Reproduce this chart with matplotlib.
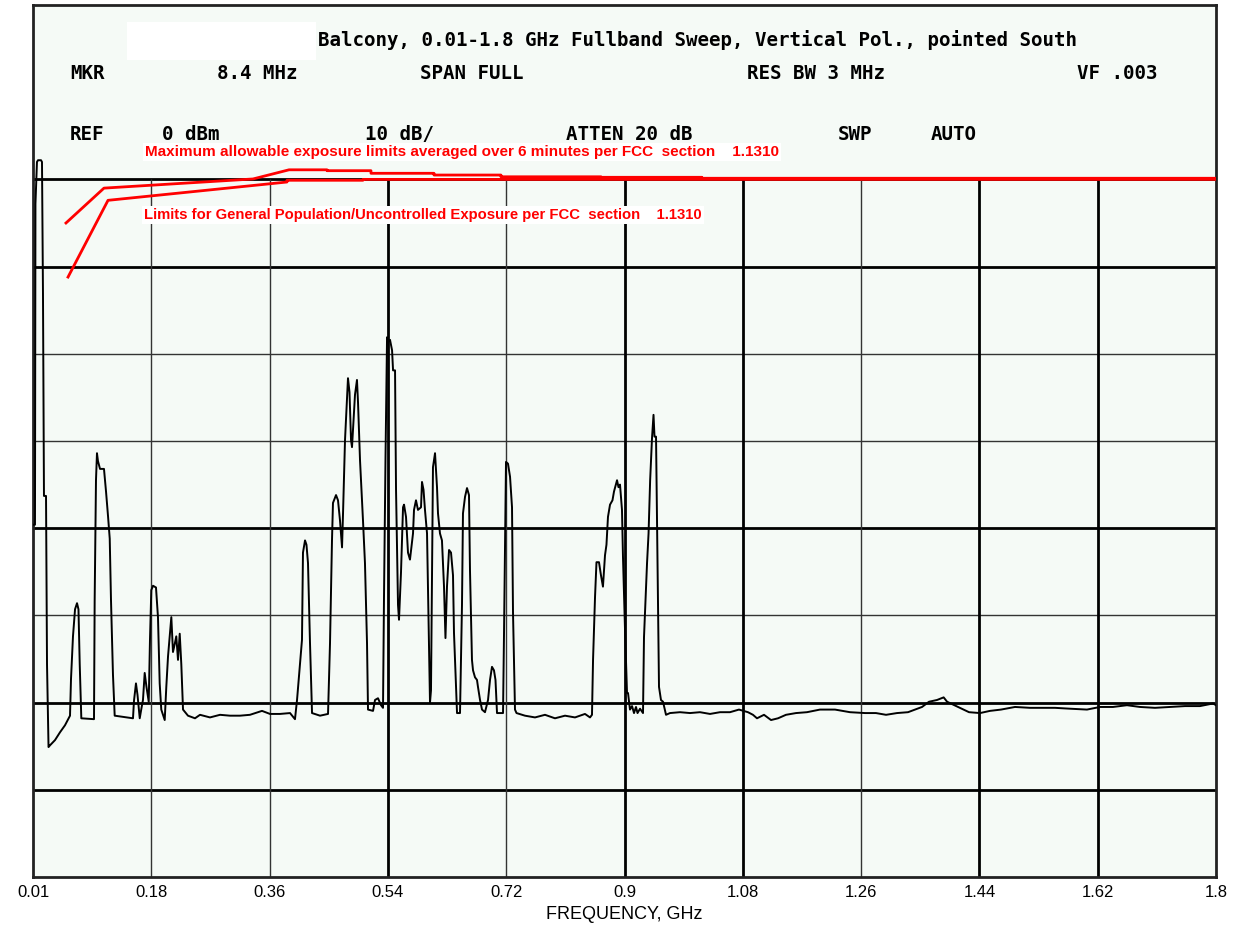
import matplotlib
matplotlib.use('Agg')
import matplotlib.pyplot as plt
from matplotlib.patches import Rectangle

# sweep data, frequency in MHz, level in dBm
freq_mhz = [10, 13, 13.7, 16.0, 17.6, 22.1, 23.6, 25.1, 26.6, 29.7, 31.2, 33.5, 35.7, 43.3, 50.9,
            58.4, 66.0, 67.5, 70.5, 73.6, 76.6, 78.8, 80.7, 83.1, 102.3, 103.3, 105.3, 106.8,
            108.3, 111.4, 117.4, 120.5, 123.5, 126.1, 128.0, 131.0, 133.6, 161.3, 162.8, 165.8,
            168.1, 171.5, 174.2, 176.4, 179.0, 181.7, 185.1, 187.0, 189.0, 191.6, 196.1, 199.1,
            201.7, 204.1, 209.3, 211.7, 214.3, 216.8, 219.3, 221.8, 224.4, 226.8, 229.4, 232.0,
            234.4, 237.0, 244.5, 255.1, 262.7, 277.8, 293.0, 308.1, 323.2, 338.3, 356.5, 368.6,
            383.7, 398.9, 406.4, 409.5, 417.0, 418.5, 421.6, 423.8, 426.1, 429.1, 432.2, 444.3,
            456.4, 459.4, 462.4, 463.9, 468.5, 471.5, 474.5, 477.6, 479.1, 482.1, 485.1, 486.6,
            488.9, 491.2, 492.7, 494.2, 497.2, 500.2, 501.8, 504.8, 509.3, 512.3, 515.4, 516.9,
            524.5, 527.5, 532.0, 536.6, 539.6, 541.1, 543.4, 545.7, 548.0, 550.2, 553.3, 554.8,
            557.8, 559.3, 562.3, 563.8, 566.8, 569.9, 571.4, 574.4, 577.4, 580.4, 585.0, 586.5,
            589.5, 592.5, 597.1, 598.6, 600.9, 603.1, 606.2, 607.7, 610.7, 612.2, 615.2, 618.3,
            621.3, 622.8, 625.8, 628.8, 631.9, 634.1, 636.4, 639.5, 642.5, 645.5, 647.0, 650.1,
            651.6, 656.1, 659.1, 660.6, 663.7, 666.7, 669.7, 671.2, 674.2, 675.8, 678.8, 681.8,
            683.3, 686.4, 689.4, 693.9, 698.5, 701.5, 704.5, 707.5, 709.8, 712.1, 721.2, 722.7,
            725.7, 728.7, 731.8, 734.8, 736.3, 739.3, 741.6, 754.4, 769.6, 784.7, 799.8, 815.0,
            830.1, 845.2, 852.8, 855.8, 857.4, 860.4, 862.6, 866.4, 869.4, 872.4, 875.5, 877.7,
            880.0, 883.1, 886.8, 889.1, 893.7, 895.9, 898.2, 901.2, 902.7, 905.8, 908.8, 910.3,
            913.3, 916.4, 919.4, 922.4, 924.7, 928.5, 933.0, 934.5, 939.1, 941.4, 943.8, 946.6,
            948.9, 950.4, 952.7, 954.9, 957.2, 960.2, 963.3, 967.8, 973.8, 989.0, 1004.1, 1019.2,
            1034.4, 1049.5, 1064.6, 1078.2, 1091.8, 1099.4, 1105.5, 1116.1, 1126.7, 1137.3,
            1149.3, 1164.5, 1181.1, 1200.8, 1223.5, 1246.2, 1268.9, 1285.5, 1300.7, 1317.3,
            1334.0, 1344.6, 1355.2, 1365.8, 1377.9, 1387.9, 1393.1, 1409.7, 1426.3, 1443.0,
            1458.0, 1474.7, 1495.9, 1518.6, 1541.3, 1556.4, 1579.1, 1604.8, 1624.5, 1644.1,
            1665.3, 1685.0, 1707.7, 1730.4, 1753.1, 1775.8, 1795.5, 1800]
level_dbm = [-59.6, -59.6, -22.8, -18.0, -17.8, -17.8, -18.0, -33.1, -56.3, -56.3, -75.6, -85.1,
             -84.9, -84.3, -83.4, -82.6, -81.5, -77.3, -72.4, -69.3, -68.6, -69.3, -75.6, -81.8,
             -81.9, -68.3, -54.5, -51.4, -52.3, -53.2, -53.2, -55.8, -58.6, -61.2, -68.2, -76.8,
             -81.5, -81.8, -79.8, -77.8, -79.1, -81.8, -80.6, -79.7, -76.6, -78.2, -79.9, -72.8,
             -67.1, -66.6, -66.8, -70.2, -77.8, -80.8, -82.0, -78.2, -74.7, -72.4, -70.2, -74.2,
             -73.3, -72.4, -75.1, -72.1, -75.6, -80.8, -81.5, -81.8, -81.4, -81.7, -81.4, -81.5,
             -81.5, -81.4, -80.95, -81.3, -81.3, -81.2, -81.9, -79.7, -72.8, -62.8, -61.4, -61.9,
             -64.0, -73.1, -81.2, -81.5, -81.3, -73.2, -61.4, -57.1, -56.2, -56.8, -59.1, -62.2,
             -58.3, -49.9, -45.0, -42.8, -44.4, -49.9, -50.7, -48.7, -44.7, -43.0, -45.6, -52.2,
             -59.1, -64.0, -73.2, -80.8, -80.95, -79.7, -79.5, -80.3, -80.6, -67.9, -51.8, -38.1,
             -38.6, -38.4, -39.6, -41.9, -41.9, -55.6, -68.8, -70.5, -65.1, -57.6, -57.3, -58.7,
             -62.8, -63.6, -60.6, -57.9, -56.8, -57.9, -57.6, -54.7, -55.6, -57.9, -60.6, -67.1,
             -80.0, -78.6, -53.0, -51.4, -55.3, -58.3, -60.6, -61.4, -66.7, -72.6, -66.7, -62.5,
             -62.8, -65.4, -72.0, -78.2, -81.2, -81.2, -68.8, -58.3, -56.4, -55.4, -56.2, -64.8,
             -75.1, -76.3, -77.1, -77.4, -78.2, -79.7, -80.8, -81.1, -79.7, -77.4, -75.9, -76.3,
             -77.4, -81.2, -81.2, -72.0, -52.4, -52.6, -54.1, -57.6, -69.7, -80.8, -81.2, -81.5,
             -81.7, -81.4, -81.8, -81.5, -81.7, -81.3, -81.7, -81.4, -75.1, -67.9, -63.9, -63.9,
             -65.4, -66.7, -63.1, -61.9, -58.7, -57.3, -56.8, -55.8, -54.5, -55.3, -55.0, -57.9,
             -63.3, -71.7, -78.9, -78.9, -80.8, -80.4, -81.2, -80.5, -81.2, -80.7, -81.2, -72.5,
             -64.0, -60.6, -54.5, -49.7, -47.0, -49.5, -49.5, -64.0, -78.2, -79.7, -79.9, -81.4,
             -81.2, -81.1, -81.2, -81.1, -81.3, -81.1, -81.1, -80.8, -81.1, -81.4, -81.8, -81.4,
             -82.0, -81.8, -81.4, -81.2, -81.1, -80.8, -80.8, -81.1, -81.2, -81.2, -81.4, -81.2,
             -81.1, -80.8, -80.5, -79.9, -79.7, -79.4, -79.9, -80.5, -81.1, -81.2, -80.95, -80.8,
             -80.5, -80.6, -80.6, -80.6, -80.7, -80.8, -80.5, -80.5, -80.3, -80.5, -80.6, -80.5,
             -80.4, -80.4, -80.1, -80.3]

# FCC 1.1310 limit lines as drawn on the plot
occ_freq = [59.9, 117.4, 342.9, 397.4, 454.9, 454.9, 521.4, 521.4, 616.8, 616.8, 718.1, 718.1,
            869.4, 869.4, 1022.2, 1022.2, 1800]
occ_dbm = [-25.0, -21.0, -19.95, -18.9, -18.9, -19.0, -19.0, -19.3, -19.3, -19.5, -19.5, -19.7,
           -19.7, -19.76, -19.76, -19.87, -19.87]
gen_freq = [63.0, 123.5, 394.3, 394.3, 509.3, 509.3, 1800]
gen_dbm = [-31.2, -22.4, -20.3, -20.1, -20.1, -20.0, -20.0]

tick_freq = [10, 189, 368, 547, 726, 905, 1084, 1263, 1442, 1621, 1800]
tick_labels = ['0.01', '0.18', '0.36', '0.54', '0.72', '0.9', '1.08', '1.26', '1.44', '1.62', '1.8']
grid_levels = [-20, -30, -40, -50, -60, -70, -80, -90]
thin_levels = [-40, -50, -70]
thin_freqs = [189, 368, 726, 1263]

fig = plt.figure(figsize=(12.38, 9.26), dpi=100)
ax = fig.add_axes([33 / 1238, 49 / 926, 1183 / 1238, 872 / 926])
ax.set_facecolor('#f5faf6')
ax.set_xlim(10, 1800)
ax.set_ylim(-100, 0)

for lv in grid_levels:
    lw = 1.0 if lv in thin_levels else 2.0
    ax.hlines(lv, 10, 1800, color='black' if lw > 1 else '#333333', lw=lw, zorder=1)
for f in tick_freq[1:-1]:
    lw = 1.0 if f in thin_freqs else 2.0
    ax.vlines(f, -100, -20, color='black' if lw > 1 else '#333333', lw=lw, zorder=1)

ax.plot(freq_mhz, level_dbm, color='black', lw=1.4, zorder=3)
ax.plot(occ_freq, occ_dbm, color='#ff0000', lw=2.0, zorder=4)
ax.plot(gen_freq, gen_dbm, color='#ff0000', lw=2.0, zorder=4)

for s in ax.spines.values():
    s.set_linewidth(2)
    s.set_color('#222222')

ax.set_yticks([])
ax.set_xticks(tick_freq)
ax.set_xticklabels(tick_labels, fontsize=12, family=['Liberation Sans Narrow', 'Liberation Sans'])
ax.tick_params(axis='x', length=0, pad=6)
ax.set_xlabel('FREQUENCY, GHz', fontsize=13, family=['Liberation Sans Narrow', 'Liberation Sans'],
              labelpad=4)

# header block
hdr = dict(transform=ax.transAxes, fontsize=13.8, fontweight='bold', family='DejaVu Sans Mono',
           va='center', ha='left', zorder=5)
ax.add_patch(Rectangle((0.0795, 0.937), 0.16, 0.0435, transform=ax.transAxes,
                       facecolor='white', edgecolor='none', zorder=4))
ax.text(0.241, 0.960, 'Balcony, 0.01-1.8 GHz Fullband Sweep, Vertical Pol., pointed South', **hdr)
row2 = [(0.0313, 'MKR'), (0.1555, '8.4 MHz'), (0.327, 'SPAN FULL'),
        (0.6036, 'RES BW 3 MHz'), (0.8825, 'VF .003')]
row3 = [(0.0313, 'REF'), (0.109, '0 dBm'), (0.2806, '10 dB/'),
        (0.4506, 'ATTEN 20 dB'), (0.6805, 'SWP'), (0.759, 'AUTO')]
for x, t in row2:
    ax.text(x, 0.921, t, **hdr)
for x, t in row3:
    ax.text(x, 0.852, t, **hdr)

red = dict(transform=ax.transAxes, fontweight='bold', color='#ff0000',
           family=['Liberation Sans', 'DejaVu Sans'], va='center', ha='left', zorder=6,
           bbox=dict(facecolor='white', edgecolor='none', pad=1.5))
ax.text(0.0947, 0.8314,
        'Maximum allowable exposure limits averaged over 6 minutes per FCC  section    1.1310',
        fontsize=11, **red)
ax.text(0.0938, 0.759,
        'Limits for General Population/Uncontrolled Exposure per FCC  section    1.1310',
        fontsize=10.7, **red)

fig.savefig('out.png', dpi=100, facecolor='white')
